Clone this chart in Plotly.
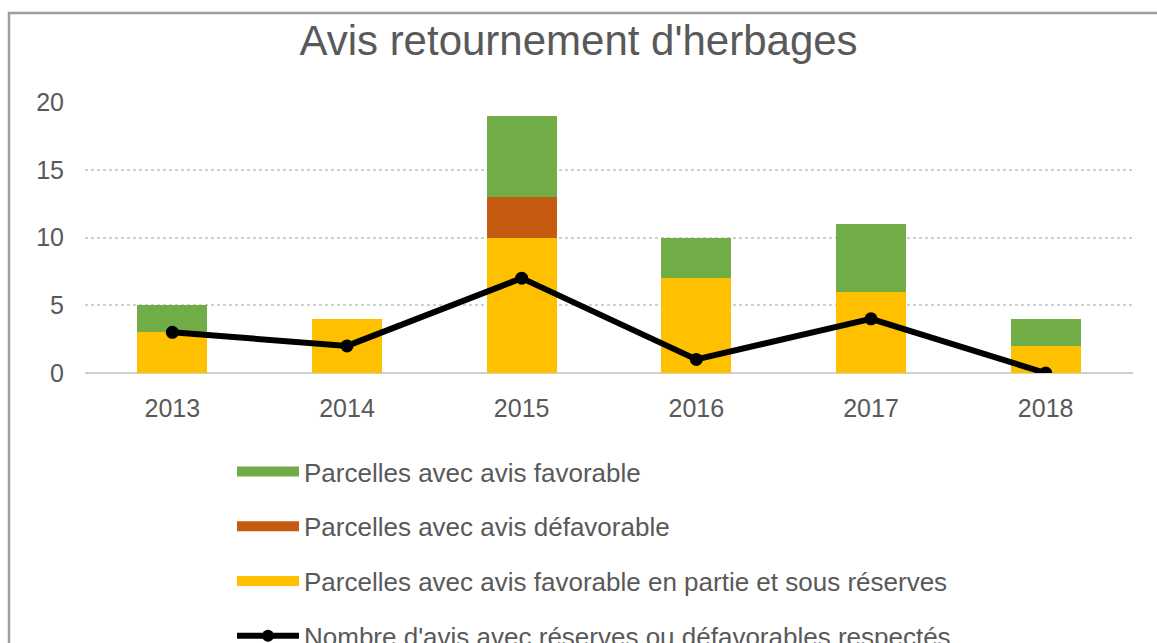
import plotly.graph_objects as go

years = ["2013", "2014", "2015", "2016", "2017", "2018"]
favorable = [2, 0, 6, 3, 5, 2]
defavorable = [0, 0, 3, 0, 0, 0]
partie_reserves = [3, 4, 10, 7, 6, 2]
respectes = [3, 2, 7, 1, 4, 0]

names = ["Parcelles avec avis favorable",
         "Parcelles avec avis défavorable",
         "Parcelles avec avis favorable en partie et sous réserves",
         "Nombre d'avis avec réserves ou défavorables respectés"]
colors = ["#70AD47", "#C55A11", "#FFC000", "black"]

FONT = "Liberation Sans, Arial, sans-serif"
GREY = "#595959"

W, H = 1157, 700
L, R, T, B = 85, 24, 102, H - 373

fig = go.Figure()
# stacked bars (bottom to top); legend entries are drawn by legend-only swatches below
fig.add_trace(go.Bar(x=years, y=partie_reserves, name=names[2], showlegend=False,
                     marker=dict(color=colors[2], line=dict(width=0))))
fig.add_trace(go.Bar(x=years, y=defavorable, name=names[1], showlegend=False,
                     marker=dict(color=colors[1], line=dict(width=0))))
fig.add_trace(go.Bar(x=years, y=favorable, name=names[0], showlegend=False,
                     marker=dict(color=colors[0], line=dict(width=0))))
fig.add_trace(go.Scatter(x=years, y=respectes, name=names[3], showlegend=False,
                         mode="lines+markers", line=dict(color="black", width=6),
                         marker=dict(color="black", size=13)))

# wide legend swatches like the original
for i in range(3):
    fig.add_trace(go.Scatter(x=[None], y=[None], name=names[i], mode="lines",
                             line=dict(color=colors[i], width=17), legendgroup=str(i), legendrank=i + 1))
fig.add_trace(go.Scatter(x=[None], y=[None], name=names[3], mode="lines+markers",
                         line=dict(color="black", width=6), marker=dict(color="black", size=12),
                         legendgroup="3", legendrank=4))

fig.update_layout(
    width=W, height=H,
    barmode="stack", bargap=0.6,
    paper_bgcolor="white", plot_bgcolor="white",
    margin=dict(l=L, r=R, t=T, b=B, autoexpand=False),
    title=dict(text="Avis retournement d'herbages", x=0.5, xanchor="center",
               y=1 - 40 / H, yanchor="middle",
               font=dict(family=FONT, size=42, color=GREY)),
    font=dict(family=FONT, color=GREY, size=24),
    showlegend=True,
    legend=dict(x=(232 - L) / 1048, xanchor="left", y=(373 - 448) / 271, yanchor="top",
                orientation="v", traceorder="grouped", tracegroupgap=18, itemwidth=62,
                bgcolor="rgba(0,0,0,0)",
                font=dict(family=FONT, size=26, color=GREY)),
    xaxis=dict(showgrid=False, showline=False, ticks="", tickfont=dict(size=25, color=GREY),
               ticklabelstandoff=18, fixedrange=True),
    yaxis=dict(range=[0, 20], dtick=5, showgrid=True, gridcolor="#cfcfcf", griddash="dot",
               gridwidth=1.5, zeroline=True, zerolinecolor="#d0d0d0", zerolinewidth=2, ticks="",
               tickfont=dict(size=25, color=GREY), ticklabelstandoff=20, fixedrange=True),
    shapes=[dict(type="rect", xref="paper", yref="paper",
                 x0=(9 - L) / 1048, x1=1.05, y0=-3, y1=(373 - 13) / 271,
                 line=dict(color="#a39c9c", width=2.5), fillcolor="rgba(0,0,0,0)", layer="below")],
)

fig.write_html("out.html", config={"displayModeBar": False},
               post_script="document.body.style.margin='0';document.body.style.overflow='hidden';"
                           "document.documentElement.style.overflow='hidden';")
